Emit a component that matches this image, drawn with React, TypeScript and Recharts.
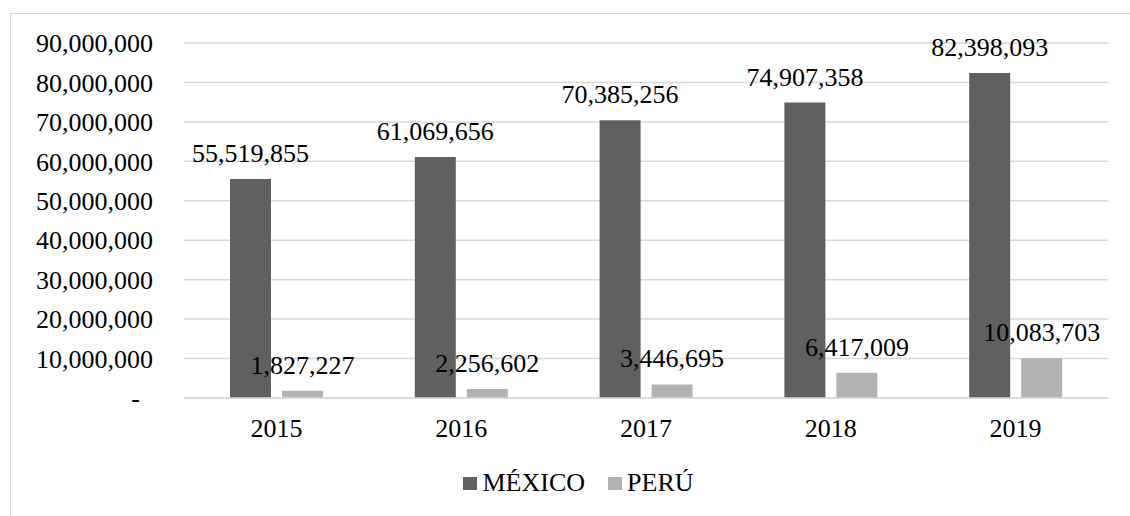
import React from 'react';
import { BarChart, Bar, XAxis, YAxis, CartesianGrid, LabelList, Legend } from 'recharts';

const years = ['2015', '2016', '2017', '2018', '2019'];
const mexico = [55519855, 61069656, 70385256, 74907358, 82398093];
const peru = [1827227, 2256602, 3446695, 6417009, 10083703];
const yTicks = [0, 10000000, 20000000, 30000000, 40000000, 50000000, 60000000, 70000000, 80000000, 90000000];
const seriesNames = { mexico: 'MÉXICO', peru: 'PERÚ' };
const colors = { mexico: '#606060', peru: '#b3b3b3' };

const data = years.map((y, i) => ({ year: y, mexico: mexico[i], peru: peru[i] }));

const FONT = '"Liberation Serif", "Times New Roman", serif';
const fmt = (v: number) => v.toLocaleString('en-US');

const YTick = (props: any) => {
  const { x, y, payload } = props;
  const v = payload.value;
  return (
    <text x={v === 0 ? x - 13 : x} y={y} dy="0.355em" textAnchor="end" fontFamily={FONT} fontSize={26} fill="#000">
      {v === 0 ? '-' : fmt(v)}
    </text>
  );
};

const LegendContent = () => (
  <div
    style={{
      height: 30,
      display: 'flex',
      justifyContent: 'center',
      alignItems: 'center',
      paddingLeft: 49,
      fontFamily: FONT,
      fontSize: 26,
      lineHeight: '30px',
      color: '#000',
    }}
  >
    {(['mexico', 'peru'] as const).map((k, i) => (
      <div key={k} style={{ display: 'flex', alignItems: 'center', marginLeft: i === 0 ? 0 : 23 }}>
        <div style={{ width: 14, height: 13, background: colors[k], marginRight: 5 }} />
        <span>{seriesNames[k]}</span>
      </div>
    ))}
  </div>
);

export default function App() {
  return (
    <div style={{ position: 'absolute', left: 0, top: 0, width: 1130, height: 516, overflow: 'hidden', background: '#fff' }}>
      <div
        style={{
          position: 'absolute',
          left: 10,
          top: 13,
          width: 1300,
          height: 700,
          border: '1.5px solid #d9d9d9',
        }}
      />
      <div style={{ position: 'absolute', left: 0, top: 0 }}>
        <BarChart
          width={1130}
          height={516}
          data={data}
          margin={{ top: 43, right: 22, left: 0, bottom: 18 }}
          barSize={41}
          barGap={11}
        >
          <CartesianGrid vertical={false} stroke="#d9d9d9" strokeWidth={1.5} />
          <XAxis
            dataKey="year"
            tickLine={false}
            axisLine={{ stroke: '#d9d9d9', strokeWidth: 1.5 }}
            tick={{ fontFamily: FONT, fontSize: 26, fill: '#000' }}
            tickMargin={15}
            height={70}
            interval={0}
          />
          <YAxis
            domain={[0, 90000000]}
            ticks={yTicks}
            width={184}
            axisLine={false}
            tickLine={false}
            tickMargin={25}
            tick={<YTick />}
            interval={0}
          />
          <Legend verticalAlign="bottom" content={<LegendContent />} />
          <Bar dataKey="mexico" name={seriesNames.mexico} fill={colors.mexico} isAnimationActive={false}>
            <LabelList
              dataKey="mexico"
              position="top"
              offset={17}
              formatter={(v: any) => fmt(Number(v))}
              style={{ fontFamily: FONT, fontSize: 26, fill: '#000' }}
            />
          </Bar>
          <Bar dataKey="peru" name={seriesNames.peru} fill={colors.peru} isAnimationActive={false}>
            <LabelList
              dataKey="peru"
              position="top"
              offset={17}
              formatter={(v: any) => fmt(Number(v))}
              style={{ fontFamily: FONT, fontSize: 26, fill: '#000' }}
            />
          </Bar>
        </BarChart>
      </div>
    </div>
  );
}
